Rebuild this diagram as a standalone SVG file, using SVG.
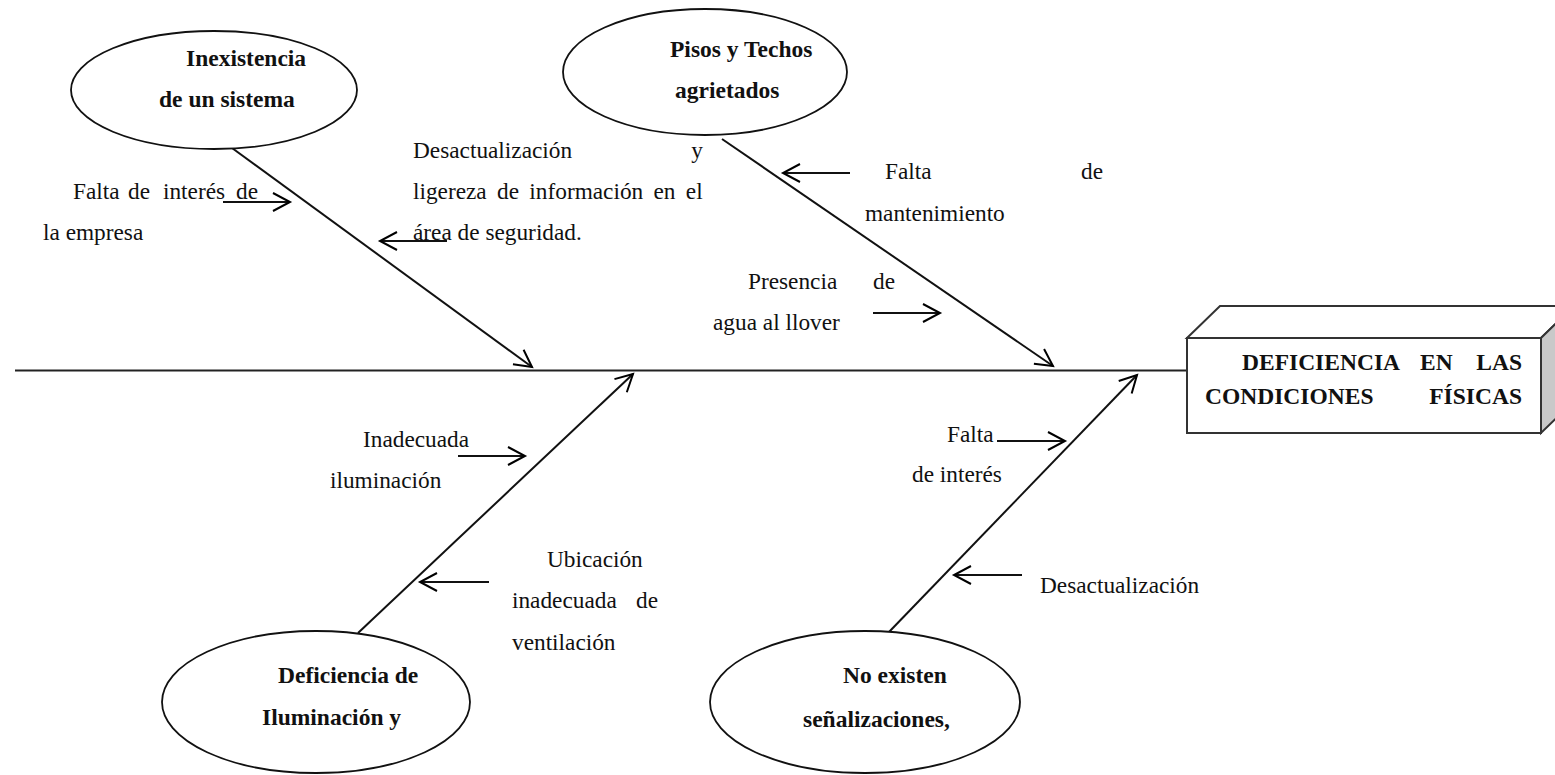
<svg xmlns="http://www.w3.org/2000/svg" width="1555" height="775" viewBox="0 0 1555 775">
  <defs>
    <marker id="head" viewBox="-20 -12 24 24" refX="0" refY="0" markerWidth="24" markerHeight="24" markerUnits="userSpaceOnUse" orient="auto">
      <path d="M-17,-9 L0,0 L-17,9" fill="none" stroke="#000" stroke-width="2"/>
    </marker>
  </defs>
  <style>
    .bone { stroke: #111; stroke-width: 2; fill: none; marker-end: url(#head); }
    .spine { stroke: #222; stroke-width: 2.2; fill: none; }
    .cause { fill: #fff; stroke: #111; stroke-width: 1.8; }
    .lbl { font-family: "Liberation Serif", "Times New Roman", serif; font-size: 23.3px; fill: #111; }
    .hd { font-family: "Liberation Serif", "Times New Roman", serif; font-size: 23.5px; font-weight: bold; fill: #111; }
    .face { stroke: #333; stroke-width: 2; stroke-linejoin: miter; }
  </style>
  <rect width="1555" height="775" fill="#fff"/>

  <!-- main axis and bones -->
  <g id="connectors">
    <line class="spine" x1="15" y1="370.5" x2="1187" y2="370.5"/>
    <line class="bone" x1="232" y1="148" x2="532" y2="367"/>
    <line class="bone" x1="722" y1="139" x2="1053" y2="366"/>
    <line class="bone" x1="358" y1="633" x2="633" y2="374"/>
    <line class="bone" x1="889" y1="632" x2="1137" y2="375"/>
    <!-- sub-cause arrows -->
    <line class="bone" x1="223" y1="202" x2="290" y2="202"/>
    <line class="bone" x1="447" y1="241" x2="380" y2="241"/>
    <line class="bone" x1="850" y1="173" x2="783" y2="173"/>
    <line class="bone" x1="873" y1="313" x2="940" y2="313"/>
    <line class="bone" x1="458" y1="456" x2="525" y2="456"/>
    <line class="bone" x1="489" y1="582" x2="420" y2="582"/>
    <line class="bone" x1="997" y1="441" x2="1065" y2="441"/>
    <line class="bone" x1="1022" y1="575" x2="954" y2="575"/>
  </g>

  <!-- effect box -->
  <g id="effect">
    <polygon class="face" points="1187,338 1220,306 1574,306 1541,338" fill="#fff"/>
    <polygon class="face" points="1541,338 1574,306 1574,401 1541,433" fill="#c9c9c9"/>
    <rect class="face" x="1187" y="338" width="354" height="95" fill="#fff"/>
    <text class="hd"><tspan x="1242" y="370">DEFICIENCIA</tspan><tspan x="1420" y="370">EN</tspan><tspan x="1522" y="370" text-anchor="end">LAS</tspan></text>
    <text class="hd"><tspan x="1205" y="404">CONDICIONES</tspan><tspan x="1522" y="404" text-anchor="end">FÍSICAS</tspan></text>
  </g>

  <!-- main causes -->
  <g id="cause-sistema">
    <ellipse class="cause" cx="214" cy="90" rx="143" ry="59"/>
    <text class="hd" x="186" y="66">Inexistencia</text>
    <text class="hd" x="159" y="107">de un sistema</text>
  </g>
  <g id="cause-pisos">
    <ellipse class="cause" cx="705" cy="72" rx="142" ry="63"/>
    <text class="hd" x="670" y="57">Pisos y Techos</text>
    <text class="hd" x="675" y="98">agrietados</text>
  </g>
  <g id="cause-iluminacion">
    <ellipse class="cause" cx="316" cy="702" rx="154" ry="71"/>
    <text class="hd" x="278" y="683">Deficiencia de</text>
    <text class="hd" x="262" y="725">Iluminación y</text>
  </g>
  <g id="cause-senalizacion">
    <ellipse class="cause" cx="865" cy="702" rx="155" ry="71"/>
    <text class="hd" x="843" y="683">No existen</text>
    <text class="hd" x="803" y="727">señalizaciones,</text>
  </g>

  <!-- sub-cause labels -->
  <g id="sub-interes-empresa">
    <text class="lbl"><tspan x="73" y="199">Falta</tspan><tspan x="128" y="199">de</tspan><tspan x="163" y="199">interés</tspan><tspan x="258" y="199" text-anchor="end">de</tspan></text>
    <text class="lbl" x="43" y="240">la empresa</text>
  </g>
  <g id="sub-desactualizacion-info">
    <text class="lbl"><tspan x="413" y="158">Desactualización</tspan><tspan x="703" y="158" text-anchor="end">y</tspan></text>
    <text class="lbl" x="413" y="199" word-spacing="4.5">ligereza de información en el</text>
    <text class="lbl" x="413" y="240">área de seguridad.</text>
  </g>
  <g id="sub-mantenimiento">
    <text class="lbl"><tspan x="885" y="179">Falta</tspan><tspan x="1103" y="179" text-anchor="end">de</tspan></text>
    <text class="lbl" x="865" y="221">mantenimiento</text>
  </g>
  <g id="sub-agua">
    <text class="lbl"><tspan x="748" y="289">Presencia</tspan><tspan x="873" y="289">de</tspan></text>
    <text class="lbl" x="713" y="330">agua al llover</text>
  </g>
  <g id="sub-inadecuada-iluminacion">
    <text class="lbl" x="363" y="447">Inadecuada</text>
    <text class="lbl" x="330" y="488">iluminación</text>
  </g>
  <g id="sub-ventilacion">
    <text class="lbl" x="547" y="567">Ubicación</text>
    <text class="lbl"><tspan x="512" y="608">inadecuada</tspan><tspan x="658" y="608" text-anchor="end">de</tspan></text>
    <text class="lbl" x="512" y="650">ventilación</text>
  </g>
  <g id="sub-falta-interes">
    <text class="lbl" x="947" y="442">Falta</text>
    <text class="lbl" x="912" y="482">de interés</text>
  </g>
  <g id="sub-desactualizacion">
    <text class="lbl" x="1040" y="593">Desactualización</text>
  </g>
</svg>
